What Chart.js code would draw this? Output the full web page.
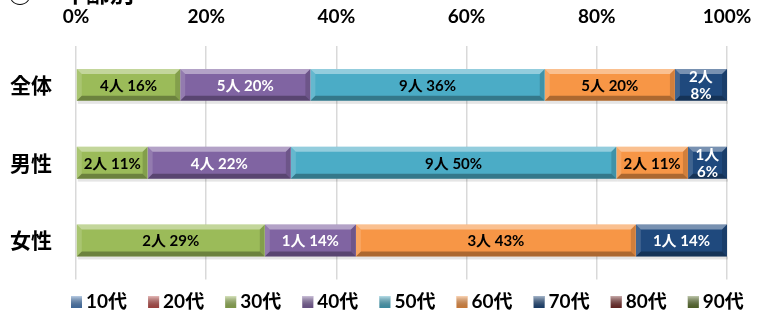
<!DOCTYPE html>
<html>
<head>
    <meta charset="utf-8">
    <title>年齢別</title>
    <script src="https://cdn.jsdelivr.net/npm/chart.js@4/dist/chart.umd.min.js"></script>
    <style>
        body { margin: 0; background: #fff; }
        #wrap { width: 759px; height: 316px; }
    </style>
</head>
<body>
<div id="wrap"><canvas id="myChart" width="759" height="316"></canvas></div>

<script>
    // 区分と年代
    const groups = ['全体', '男性', '女性'];
    const ages = ['10代', '20代', '30代', '40代', '50代', '60代', '70代', '80代', '90代'];
    const xTicks = ['0%', '20%', '40%', '60%', '80%', '100%'];

    // 割合 (%) : [全体, 男性, 女性]
    const pct10 = [0, 0, 0];
    const pct20 = [0, 0, 0];
    const pct30 = [16, 11, 29];
    const pct40 = [20, 22, 14];
    const pct50 = [36, 50, 0];
    const pct60 = [20, 11, 43];
    const pct70 = [8, 6, 14];
    const pct80 = [0, 0, 0];
    const pct90 = [0, 0, 0];

    // 人数
    const cnt10 = [0, 0, 0];
    const cnt20 = [0, 0, 0];
    const cnt30 = [4, 2, 2];
    const cnt40 = [5, 4, 1];
    const cnt50 = [9, 9, 0];
    const cnt60 = [5, 2, 3];
    const cnt70 = [2, 1, 1];
    const cnt80 = [0, 0, 0];
    const cnt90 = [0, 0, 0];

    const pctAll = [pct10, pct20, pct30, pct40, pct50, pct60, pct70, pct80, pct90];
    const cntAll = [cnt10, cnt20, cnt30, cnt40, cnt50, cnt60, cnt70, cnt80, cnt90];

    const colors = ['#4F81BD', '#C0504D', '#9BBB59', '#8064A2', '#4BACC6',
        '#F79646', '#1F497D', '#772C2A', '#5F7530'];
    const textColors = ['#fff', '#fff', '#000', '#fff', '#000', '#000', '#fff', '#fff', '#fff'];

    const jpFont = '"Noto Sans CJK JP", sans-serif';
    const numFont = 'Lato, "Noto Sans CJK JP", sans-serif';

    let datasets = [];
    for (let i = 0; i < ages.length; i++) {
        datasets.push({
            label: ages[i],
            data: pctAll[i],
            backgroundColor: colors[i],
            borderWidth: 0,
            barPercentage: 1,
            categoryPercentage: 0.41
        });
    }

    // 切れたタイトル
    const titlePlugin = {
        id: 'cutTitle',
        beforeDraw: function (chart) {
            let ctx = chart.ctx;
            ctx.save();
            ctx.fillStyle = '#000';
            ctx.textBaseline = 'bottom';
            ctx.font = 'bold 24px ' + jpFont;
            ctx.fillText('①', 8, 5);
            ctx.fillText('年齢別', 62, 5);
            ctx.restore();
        }
    };

    // 凡例 (下)
    const legendPlugin = {
        id: 'ageLegend',
        afterDraw: function (chart) {
            let ctx = chart.ctx;
            ctx.save();
            ctx.textBaseline = 'middle';
            ctx.textAlign = 'left';
            ctx.font = 'bold 19px ' + numFont;
            chart.data.datasets.forEach(function (ds, i) {
                let bx = 71 + i * 77.1, by = 302;
                let g = ctx.createLinearGradient(0, by - 6, 0, by + 6);
                g.addColorStop(0, 'rgba(255,255,255,0.6)');
                g.addColorStop(1, 'rgba(0,0,0,0.2)');
                ctx.fillStyle = ds.backgroundColor;
                ctx.fillRect(bx, by - 6, 11, 12);
                ctx.fillStyle = g;
                ctx.fillRect(bx, by - 6, 11, 12);
                ctx.fillStyle = '#000';
                ctx.fillText(ds.label, bx + 15, by);
            });
            ctx.restore();
        }
    };

    // ベベル風の立体表現とラベル
    const bevelPlugin = {
        id: 'bevel',
        afterDatasetsDraw: function (chart) {
            let ctx = chart.ctx;
            ctx.save();
            chart.data.datasets.forEach(function (ds, di) {
                let meta = chart.getDatasetMeta(di);
                meta.data.forEach(function (bar, i) {
                    if (!ds.data[i]) return;
                    let x0 = Math.min(bar.base, bar.x), x1 = Math.max(bar.base, bar.x);
                    let y0 = bar.y - bar.height / 2, y1 = bar.y + bar.height / 2;
                    let b = 5;
                    // 上
                    ctx.fillStyle = 'rgba(255,255,255,0.4)';
                    ctx.beginPath();
                    ctx.moveTo(x0, y0); ctx.lineTo(x1, y0); ctx.lineTo(x1 - b, y0 + b); ctx.lineTo(x0 + b, y0 + b);
                    ctx.fill();
                    // 左
                    ctx.fillStyle = 'rgba(255,255,255,0.15)';
                    ctx.beginPath();
                    ctx.moveTo(x0, y0); ctx.lineTo(x0 + b, y0 + b); ctx.lineTo(x0 + b, y1 - b); ctx.lineTo(x0, y1);
                    ctx.fill();
                    // 右
                    ctx.fillStyle = 'rgba(0,0,0,0.15)';
                    ctx.beginPath();
                    ctx.moveTo(x1, y0); ctx.lineTo(x1 - b, y0 + b); ctx.lineTo(x1 - b, y1 - b); ctx.lineTo(x1, y1);
                    ctx.fill();
                    // 下
                    ctx.fillStyle = 'rgba(0,0,0,0.3)';
                    ctx.beginPath();
                    ctx.moveTo(x0, y1); ctx.lineTo(x1, y1); ctx.lineTo(x1 - b, y1 - b); ctx.lineTo(x0 + b, y1 - b);
                    ctx.fill();
                    // 影
                    ctx.fillStyle = 'rgba(0,0,0,0.10)';
                    ctx.fillRect(x0 + 1, y1, x1 - x0, 3);

                    // ラベル
                    let c = cntAll[di][i] + '人';
                    let p = ds.data[i] + '%';
                    let cx = (x0 + x1) / 2;
                    ctx.fillStyle = textColors[di];
                    ctx.textAlign = 'center';
                    ctx.textBaseline = 'middle';
                    ctx.font = 'bold 15px ' + numFont;
                    if (x1 - x0 < 65) {
                        ctx.fillText(c, cx, bar.y - 8);
                        ctx.fillText(p, cx, bar.y + 9);
                    } else {
                        ctx.fillText(c + ' ' + p, cx, bar.y + 1);
                    }
                });
            });
            ctx.restore();
        }
    };

    new Chart(document.getElementById('myChart'), {
        type: 'bar',
        data: {
            labels: groups,
            datasets: datasets
        },
        options: {
            indexAxis: 'y',
            responsive: false,
            animation: false,
            layout: { padding: { top: 0, right: 32, bottom: 27, left: 0 } },
            scales: {
                x: {
                    position: 'top',
                    stacked: true,
                    min: 0,
                    max: 100,
                    border: { display: false },
                    grid: { color: '#d9d9d9', lineWidth: 1.5, drawTicks: false },
                    ticks: {
                        stepSize: 20,
                        padding: 18,
                        color: '#000',
                        font: { family: numFont, size: 19, weight: 'bold' },
                        callback: function (v, idx) { return xTicks[idx]; }
                    },
                    afterFit: function (s) {
                        s.height = 46;
                        s.paddingLeft = 0;
                        s.paddingRight = 0;
                    }
                },
                y: {
                    stacked: true,
                    border: { display: false },
                    grid: { display: false, drawTicks: false },
                    ticks: {
                        padding: 24,
                        color: '#000',
                        font: { family: jpFont, size: 21, weight: 'bold' }
                    },
                    afterFit: function (s) { s.width = 76; }
                }
            },
            plugins: {
                legend: { display: false },
                tooltip: { enabled: false }
            }
        },
        plugins: [titlePlugin, bevelPlugin, legendPlugin]
    });
</script>
</body>
</html>
